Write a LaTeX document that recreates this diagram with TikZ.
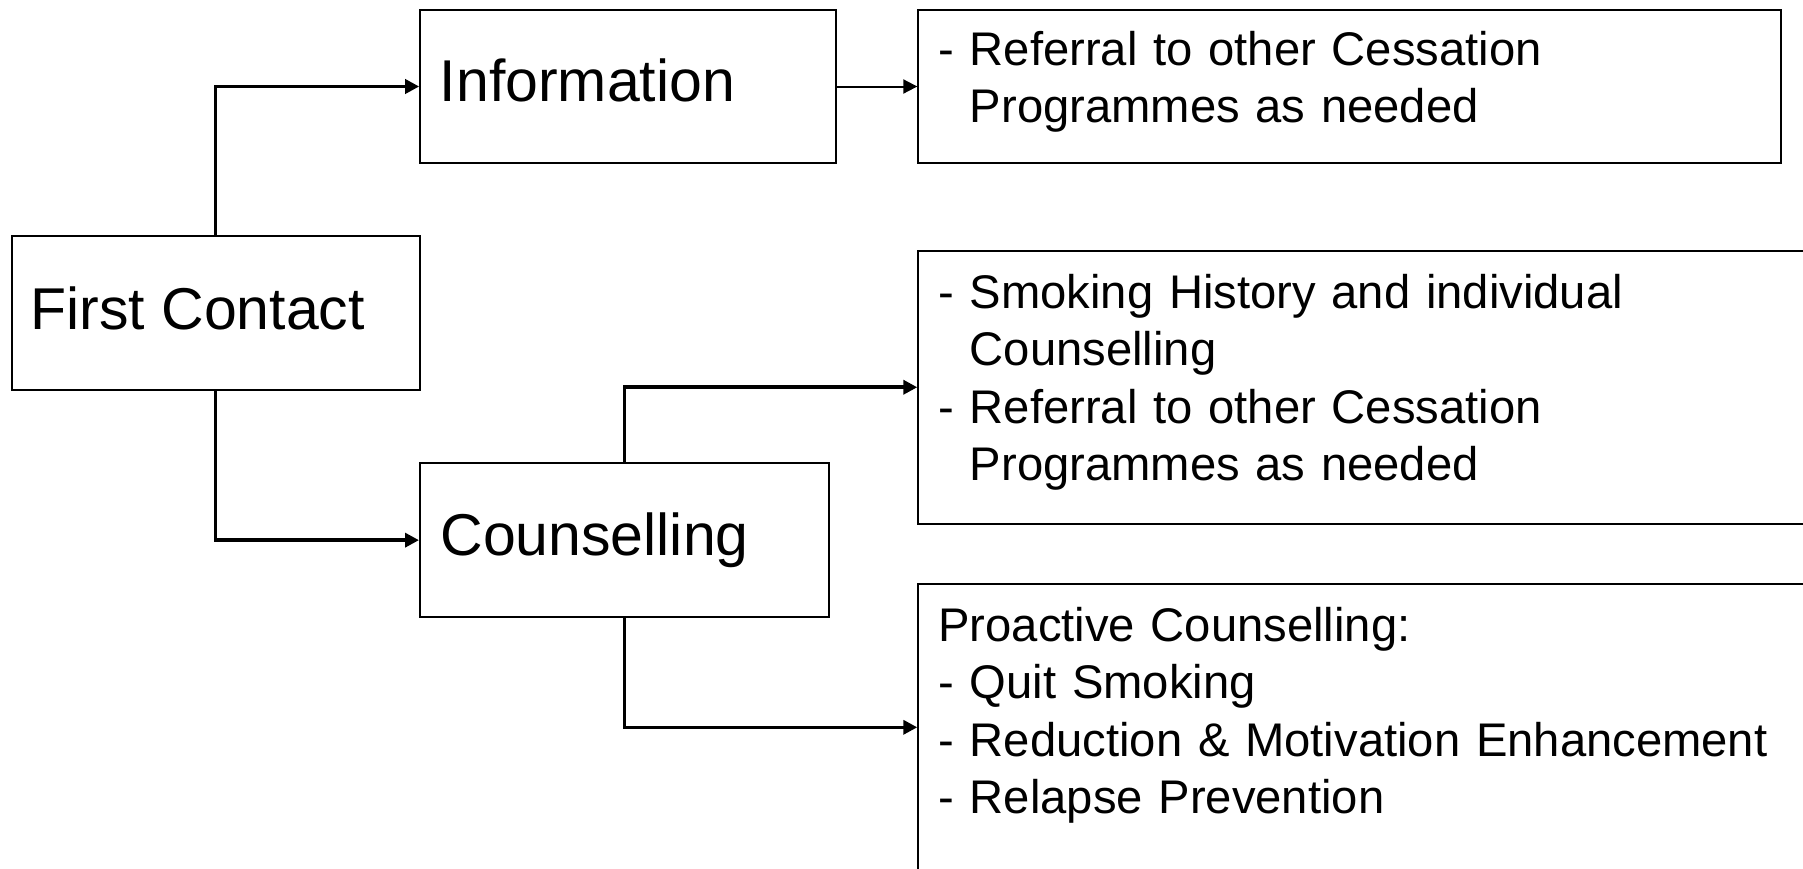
\documentclass[tikz,border=0pt]{standalone}
\usepackage{fontspec}
\setmainfont{Liberation Sans}
\usetikzlibrary{arrows.meta,fit}
\begin{document}
\begin{tikzpicture}[x=0.5pt,y=-0.5pt,
  box/.style={draw, line width=1pt, inner sep=0pt},
  big/.style={font=\fontsize{29.5pt}{35pt}\selectfont, inner sep=0pt, anchor=base west},
  small/.style={font=\fontsize{23.6pt}{28.75pt}\selectfont, inner sep=0pt, anchor=base west, text width=440pt, align=left},
  thickarrow/.style={line width=1.8pt, -{Triangle[length=7pt,width=7pt]}},
  thinarrow/.style={line width=1pt, -{Triangle[length=7pt,width=7pt]}}]
\useasboundingbox (0,0) rectangle (1803,868);
\node[box, fit={(11.7,236.3)(419.6,390)}] (fc) {};
\node[box, fit={(420.2,10)(836.3,163)}] (info) {};
\node[box, fit={(420,463.3)(829.2,617)}] (couns) {};
\node[box, fit={(918.3,10)(1780.5,163)}] (r1) {};
\node[box, fit={(918.3,251)(1812,523.5)}] (r2) {};
\node[box, fit={(918.3,584)(1812,870.6)}] (r3) {};

\node[big] (tfc) at (30,329) {First Contact};
\node[big] (tinfo) at (439.5,101.7) {Information};
\node[big] (tcouns) at (440,555) {Counselling};

\node[small] (t1) at (938,65) {- Referral to other Cessation\\ \phantom{-}\ Programmes as needed};
\node[small] (t2) at (938,308) {- Smoking History and individual\\ \phantom{-}\ Counselling\\- Referral to other Cessation\\ \phantom{-}\ Programmes as needed};
\node[small] (t3) at (938,641) {Proactive Counselling:\\- Quit Smoking\\- Reduction \& Motivation Enhancement\\- Relapse Prevention};

\draw[thickarrow] (fc.north) |- (info.west);
\draw[thickarrow] (fc.south) |- (couns.west);
\draw[thinarrow] (info.east) -- (r1.west);
\draw[thickarrow] (couns.north) |- (r2.west);
\draw[thickarrow] (couns.south) |- (r3.west);
\end{tikzpicture}
\end{document}
